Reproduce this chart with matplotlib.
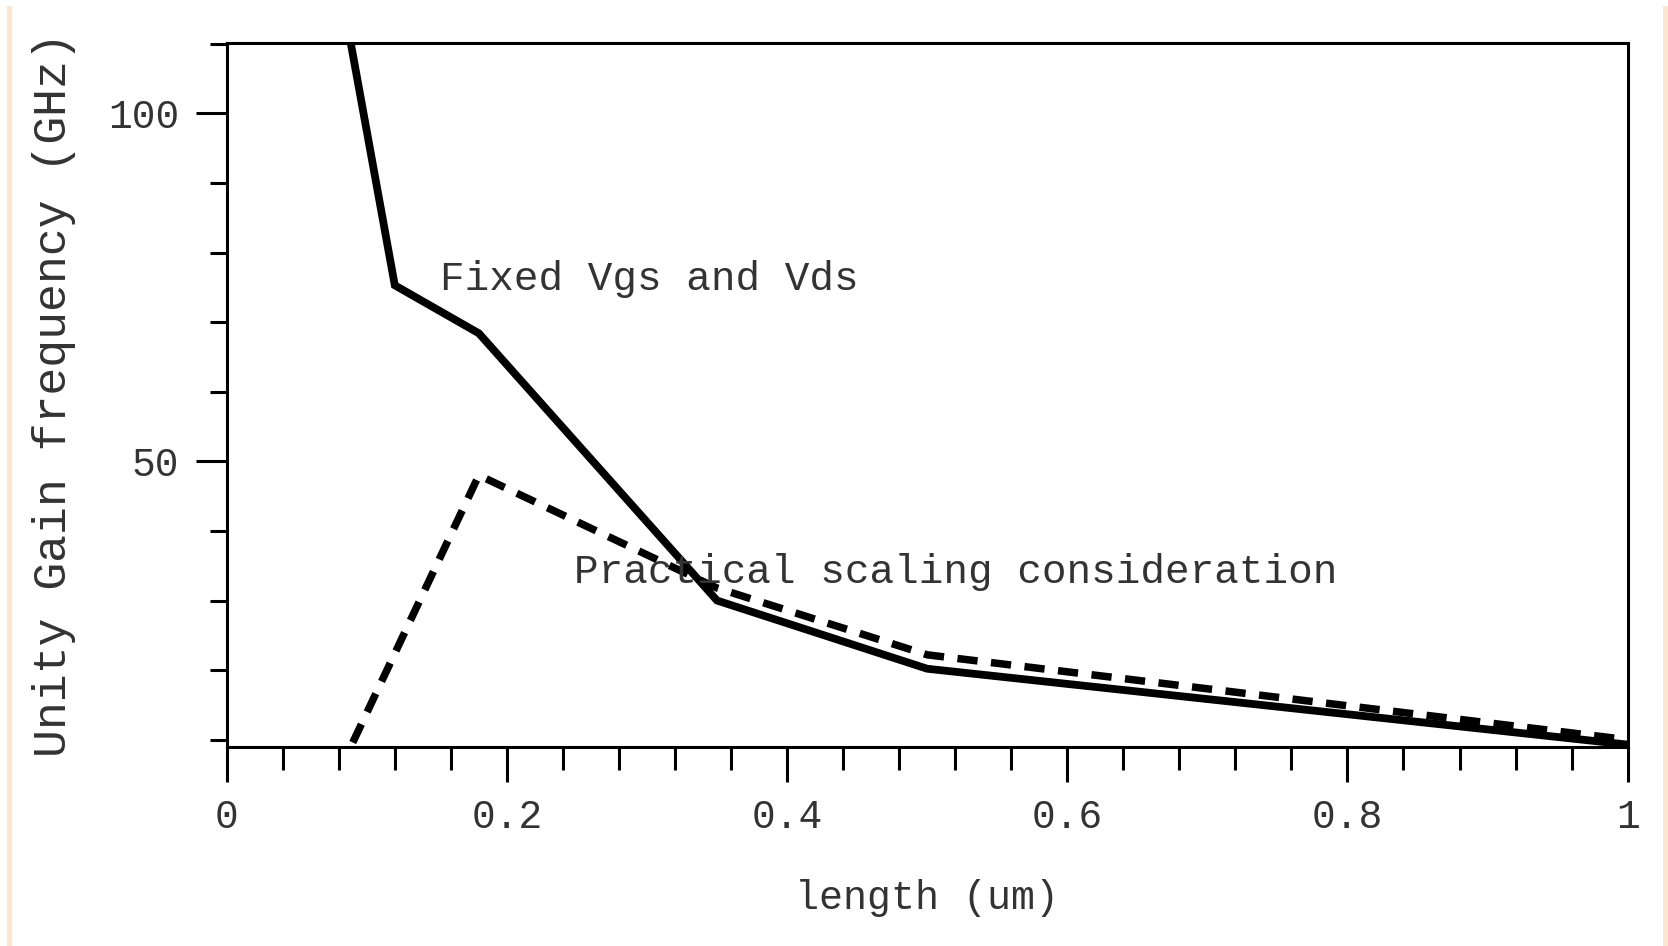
import matplotlib
matplotlib.use("Agg")
import matplotlib.pyplot as plt
from matplotlib.patches import Rectangle
from matplotlib.ticker import MultipleLocator, FixedLocator, FuncFormatter

# data (length in um, fT in GHz)
length_fixed = [0.08, 0.12, 0.18, 0.35, 0.50, 1.00]
ft_fixed = [119.6, 75.3, 68.4, 30.0, 20.2, 9.3]

length_practical = [0.09, 0.18, 0.35, 0.50, 1.00]
ft_practical = [9.6, 48.0, 31.8, 22.2, 10.0]

label_fixed = "Fixed Vgs and Vds"
label_practical = "Practical scaling consideration"

mono = "Liberation Mono"
txt_col = "#333333"

fig = plt.figure(figsize=(16.68, 9.46), dpi=100)
ax = fig.add_axes([0.1359, 0.2107, 0.8399, 0.7435])

ax.plot(length_fixed, ft_fixed, color="black", lw=5.6, solid_joinstyle="miter")
ax.plot(length_practical, ft_practical, color="black", lw=5.4,
        linestyle=(0, (2.7, 1.8)), dash_capstyle="butt")

ax.set_xlim(0, 1)
ax.set_ylim(9.0, 110.07)

ax.xaxis.set_major_locator(MultipleLocator(0.2))
ax.xaxis.set_minor_locator(MultipleLocator(0.04))
ax.yaxis.set_major_locator(FixedLocator([50, 100]))
ax.yaxis.set_minor_locator(FixedLocator([10, 20, 30, 40, 60, 70, 80, 90, 110]))
ax.xaxis.set_major_formatter(FuncFormatter(lambda v, p: "%g" % round(v, 2)))

for s in ax.spines.values():
    s.set_linewidth(2.2)

ax.tick_params(axis="x", which="major", direction="out", length=25, width=2.2, pad=12)
ax.tick_params(axis="x", which="minor", direction="out", length=16.5, width=2.2)
ax.tick_params(axis="y", which="major", direction="out", length=22, width=2.2, pad=12)
ax.tick_params(axis="y", which="minor", direction="out", length=12, width=2.2)

for lab in ax.get_xticklabels() + ax.get_yticklabels():
    lab.set_fontfamily(mono)
    lab.set_fontsize(28.5)
    lab.set_color(txt_col)

ax.set_xlabel("length (um)", family=mono, fontsize=28.8, color=txt_col, labelpad=31)
ax.set_ylabel("Unity Gain frequency (GHz)", family=mono, fontsize=33.5,
              color=txt_col, labelpad=23)

ax.text(0.152, 74.6, label_fixed, family=mono, fontsize=29.5, color=txt_col,
        va="baseline", ha="left")
ax.text(0.248, 32.5, label_practical, family=mono, fontsize=29.5, color=txt_col,
        va="baseline", ha="left")

# peach frame edges of the original page
peach = "#fce6d0"
fig.add_artist(Rectangle((7 / 1668, 0), 5 / 1668, 1 - 6 / 946,
                         transform=fig.transFigure, color=peach, lw=0))
fig.add_artist(Rectangle((1663 / 1668, 0), 5 / 1668, 1 - 6 / 946,
                         transform=fig.transFigure, color=peach, lw=0))

fig.savefig("out.png", dpi=100)
